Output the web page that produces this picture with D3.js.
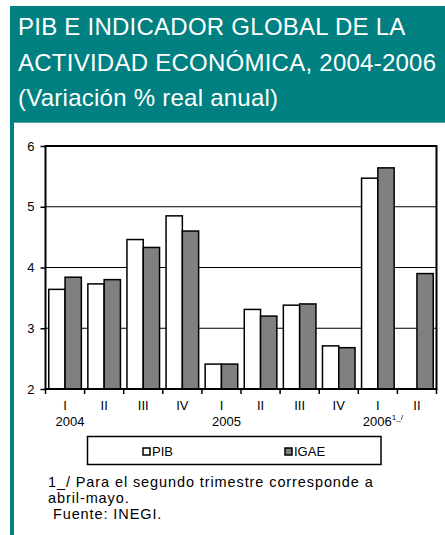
<!DOCTYPE html>
<html lang="es">
<head>
<meta charset="UTF-8">
<title>PIB e IGAE</title>
<script src="https://cdn.jsdelivr.net/npm/d3@7"></script>
<style>
  body { margin: 0; background: #fff; }
  svg { display: block; font-family: Arial, "Liberation Sans", sans-serif; }
</style>
</head>
<body>
<div id="chart"></div>
<script>
const quarters = ["I", "II", "III", "IV", "I", "II", "III", "IV", "I", "II"]
const years = [
  { idx: 0, label: "2004", note: "" },
  { idx: 4, label: "2005", note: "" },
  { idx: 8, label: "2006", note: "1_/" }
]
const series = ["PIB", "IGAE"]
const pib = [3.64, 3.73, 4.46, 4.85, 2.41, 3.31, 3.38, 2.71, 5.47, null]
const igae = [3.84, 3.80, 4.33, 4.60, 2.41, 3.20, 3.40, 2.68, 5.64, 3.90]
const yTicks = [2, 3, 4, 5, 6]
const titleLines = ["PIB E INDICADOR GLOBAL DE LA", "ACTIVIDAD ECONÓMICA, 2004-2006", "(Variación % real anual)"]
const notes = ["1_/ Para el segundo trimestre corresponde a", "abril-mayo.", " Fuente: INEGI."]

const width = 445, height = 535
const teal = "#008080"
const fills = { PIB: "#ffffff", IGAE: "#808080" }

const svg = d3.select("#chart").append("svg")
  .attr("width", width)
  .attr("height", height)

// header + left border
svg.append("rect").attr("x", 10).attr("y", 6).attr("width", width - 10).attr("height", 116).attr("fill", teal)
svg.append("rect").attr("x", 10).attr("y", 122).attr("width", 4).attr("height", height - 122).attr("fill", teal)
svg.append("rect").attr("x", 14).attr("y", 122).attr("width", width - 14).attr("height", 1).attr("fill", "#5aa9a9")

svg.append("g").selectAll("text")
  .data(titleLines)
  .enter().append("text")
  .attr("x", 18)
  .attr("y", (d, i) => 35 + i * 35.5)
  .attr("fill", "#fff")
  .style("font-size", "24px")
  .style("letter-spacing", "0.25px")
  .text(d => d)

// plot
const pLeft = 45.5, pRight = 436.5, pTop = 146, pBottom = 389

const x0 = d3.scaleBand()
  .domain(d3.range(quarters.length))
  .range([pLeft, pRight])

const x1 = d3.scaleBand()
  .domain(series)
  .range([0, x0.bandwidth()])
  .paddingOuter(0.2)

const y = d3.scaleLinear()
  .domain([2, 6])
  .range([pBottom, pTop])

// gridlines
svg.append("g").selectAll("line")
  .data(yTicks.slice(1, -1))
  .enter().append("line")
  .attr("x1", pLeft).attr("x2", pRight)
  .attr("y1", d => y(d)).attr("y2", d => y(d))
  .attr("stroke", "#000").attr("stroke-width", 1.2)

// bars
const rows = quarters.map((q, i) => ({ i, PIB: pib[i], IGAE: igae[i] }))
svg.append("g").selectAll("g")
  .data(rows)
  .enter().append("g")
  .attr("transform", d => `translate(${x0(d.i)},0)`)
  .selectAll("rect")
  .data(d => series.map(s => ({ s, v: d[s] })).filter(e => e.v != null))
  .enter().append("rect")
  .attr("x", d => x1(d.s))
  .attr("y", d => y(d.v))
  .attr("width", x1.bandwidth())
  .attr("height", d => y(2) - y(d.v))
  .attr("fill", d => fills[d.s])
  .attr("stroke", "#000")
  .attr("stroke-width", 1.5)

// frame
svg.append("rect")
  .attr("x", pLeft).attr("y", pTop)
  .attr("width", pRight - pLeft).attr("height", pBottom - pTop)
  .attr("fill", "none").attr("stroke", "#000").attr("stroke-width", 2)

// y axis
const yAxis = svg.append("g")
  .attr("transform", `translate(${pLeft},0)`)
  .call(d3.axisLeft(y).tickValues(yTicks).tickSize(5).tickFormat(d3.format("d")))
yAxis.select(".domain").remove()
yAxis.selectAll("line").attr("stroke", "#000").attr("stroke-width", 1.5)
yAxis.selectAll("text").attr("fill", "#000").style("font-size", "13px").attr("x", -11)

// x axis: boundary ticks
svg.append("g").selectAll("line")
  .data(d3.range(quarters.length + 1))
  .enter().append("line")
  .attr("x1", d => d < quarters.length ? x0(d) : pRight)
  .attr("x2", d => d < quarters.length ? x0(d) : pRight)
  .attr("y1", pBottom).attr("y2", pBottom + 5)
  .attr("stroke", "#000").attr("stroke-width", 1.5)

const xAxis = svg.append("g")
  .attr("transform", `translate(0,${pBottom})`)
  .call(d3.axisBottom(x0).tickSize(0).tickFormat(i => quarters[i]))
xAxis.select(".domain").remove()
xAxis.selectAll("text").attr("fill", "#000").attr("y", 12).style("font-size", "13px")

const yearText = svg.append("g").selectAll("text")
  .data(years)
  .enter().append("text")
  .attr("x", d => x0(d.idx) + x0.bandwidth() / 2 + 5)
  .attr("y", 426)
  .attr("text-anchor", "middle")
  .style("font-size", "13px")
yearText.append("tspan").text(d => d.label)
yearText.append("tspan").attr("dy", -6).style("font-size", "8px").text(d => d.note)

// legend
const legend = svg.append("g")
legend.append("rect")
  .attr("x", 87.5).attr("y", 436.5).attr("width", 293.5).attr("height", 28)
  .attr("fill", "#fff").attr("stroke", "#000").attr("stroke-width", 1.5)
const legendX = { PIB: 143, IGAE: 285 }
const item = legend.selectAll("g.item")
  .data(series)
  .enter().append("g")
  .attr("class", "item")
  .attr("transform", d => `translate(${legendX[d]},448)`)
item.append("rect")
  .attr("width", 7).attr("height", 7)
  .attr("fill", d => fills[d]).attr("stroke", "#000").attr("stroke-width", 1.5)
item.append("text")
  .attr("x", 9).attr("y", 8)
  .style("font-size", "13px")
  .text(d => d)

// notes
svg.append("g").selectAll("text")
  .data(notes)
  .enter().append("text")
  .attr("x", 48)
  .attr("y", (d, i) => 487 + i * 16)
  .style("font-size", "14.5px")
  .style("letter-spacing", "0.9px")
  .style("white-space", "pre")
  .attr("xml:space", "preserve")
  .text(d => d)
</script>
</body>
</html>
